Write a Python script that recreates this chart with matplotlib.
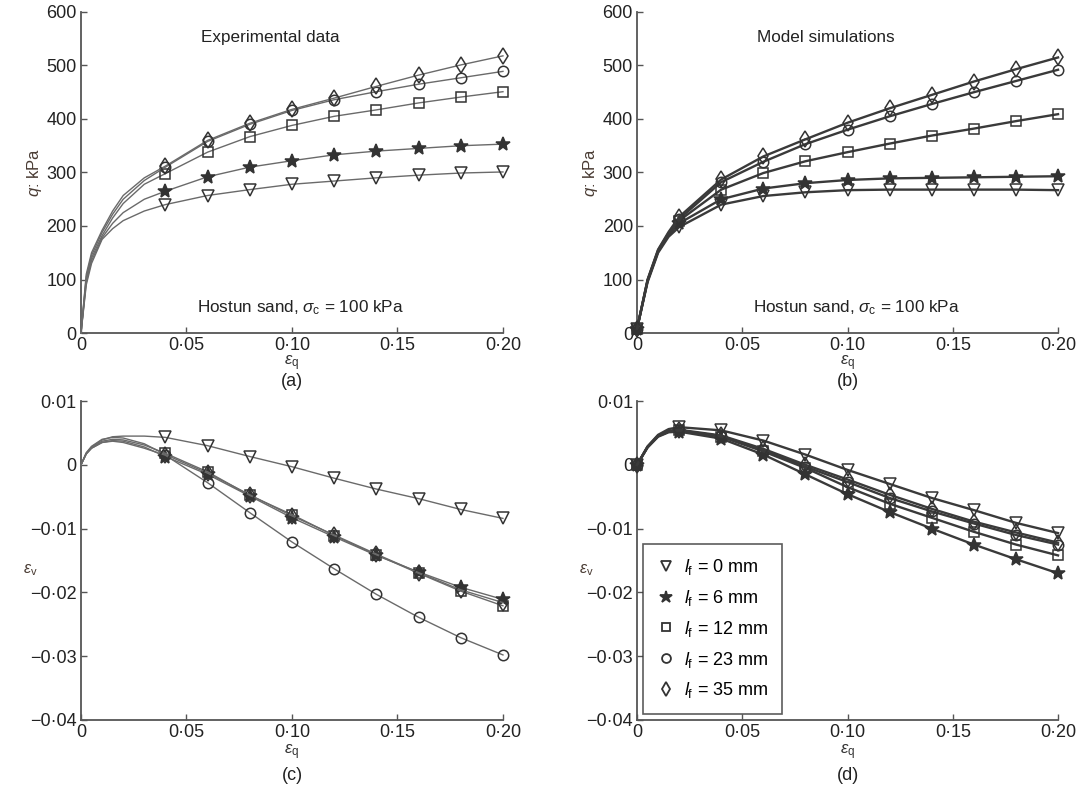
import matplotlib
matplotlib.use("Agg")
import matplotlib.pyplot as plt
from matplotlib.lines import Line2D

plt.rcParams["font.family"] = ["Liberation Sans", "DejaVu Sans"]
plt.rcParams["mathtext.fontset"] = "custom"
plt.rcParams["mathtext.rm"] = "Liberation Sans"
plt.rcParams["mathtext.it"] = "Liberation Sans:italic"
plt.rcParams["font.size"] = 12

# ---- data ----
labels = ["0 mm", "6 mm", "12 mm", "23 mm", "35 mm"]
markers = ["v", "*", "s", "o", "d"]

# experimental: markers from 0.04 on
eq_exp = [0, 0.0025, 0.005, 0.01, 0.015, 0.02, 0.03, 0.04, 0.06, 0.08,
          0.10, 0.12, 0.14, 0.16, 0.18, 0.20]
exp_mark = list(range(7, 16))

q_exp_0 = [0, 90, 130, 175, 195, 210, 228, 240, 257, 268, 278, 284, 290, 295, 299, 301]
q_exp_6 = [0, 95, 135, 178, 205, 225, 250, 265, 292, 310, 322, 333, 340, 345, 350, 353]
q_exp_12 = [0, 100, 140, 182, 215, 242, 278, 298, 338, 367, 388, 405, 417, 430, 441, 451]
q_exp_23 = [0, 105, 145, 188, 222, 250, 285, 310, 358, 390, 416, 436, 451, 465, 477, 489]
q_exp_35 = [0, 110, 150, 192, 228, 257, 290, 312, 360, 392, 418, 439, 461, 482, 501, 518]

ev_exp_0 = [0, 0.0018, 0.0028, 0.0039, 0.0044, 0.0045, 0.0045, 0.0043, 0.0030, 0.0013,
            -0.0003, -0.0021, -0.0038, -0.0053, -0.0070, -0.0084]
ev_exp_6 = [0, 0.0017, 0.0026, 0.0035, 0.0038, 0.0037, 0.0028, 0.0013, -0.0015, -0.0049,
            -0.0083, -0.0113, -0.0142, -0.0168, -0.0192, -0.0211]
ev_exp_12 = [0, 0.0018, 0.0027, 0.0037, 0.0040, 0.0039, 0.0031, 0.0018, -0.0011, -0.0048,
             -0.0078, -0.0111, -0.0141, -0.0170, -0.0198, -0.0221]
ev_exp_23 = [0, 0.0017, 0.0026, 0.0035, 0.0037, 0.0035, 0.0026, 0.0015, -0.0028, -0.0075,
             -0.0121, -0.0163, -0.0203, -0.0239, -0.0271, -0.0298]
ev_exp_35 = [0, 0.0019, 0.0029, 0.0040, 0.0043, 0.0042, 0.0033, 0.0016, -0.0013, -0.0047,
             -0.0080, -0.0110, -0.0140, -0.0169, -0.0196, -0.0216]

# model: markers at 0 and every 0.02
eq_mod = [0, 0.005, 0.01, 0.015, 0.02, 0.04, 0.06, 0.08, 0.10, 0.12, 0.14, 0.16, 0.18, 0.20]
mod_mark = [0] + list(range(4, 14))

q_mod_0 = [8, 95, 150, 180, 198, 240, 256, 263, 267, 268, 268, 268, 268, 267]
q_mod_6 = [8, 97, 152, 183, 205, 250, 270, 280, 286, 289, 290, 291, 292, 293]
q_mod_12 = [8, 98, 153, 185, 210, 268, 299, 321, 338, 354, 369, 382, 396, 409]
q_mod_23 = [8, 99, 155, 187, 213, 282, 320, 353, 380, 405, 428, 450, 471, 492]
q_mod_35 = [8, 100, 156, 189, 217, 287, 330, 362, 393, 420, 445, 470, 493, 515]

ev_mod_0 = [0, 0.0029, 0.0047, 0.0056, 0.0059, 0.0054, 0.0038, 0.0016, -0.0008, -0.0030,
            -0.0052, -0.0071, -0.0091, -0.0107]
ev_mod_6 = [0, 0.0027, 0.0044, 0.0051, 0.0052, 0.0041, 0.0016, -0.0015, -0.0046, -0.0074,
            -0.0100, -0.0125, -0.0148, -0.0170]
ev_mod_12 = [0, 0.0028, 0.0045, 0.0052, 0.0054, 0.0044, 0.0021, -0.0005, -0.0035, -0.0061,
             -0.0083, -0.0105, -0.0125, -0.0142]
ev_mod_23 = [0, 0.0028, 0.0045, 0.0052, 0.0054, 0.0045, 0.0023, -0.0003, -0.0027, -0.0052,
             -0.0073, -0.0092, -0.0110, -0.0125]
ev_mod_35 = [0, 0.0028, 0.0046, 0.0053, 0.0055, 0.0046, 0.0025, 0.0000, -0.0023, -0.0047,
             -0.0069, -0.0089, -0.0106, -0.0122]

xticks = [0, 0.05, 0.10, 0.15, 0.20]
xticklabels = ["0", "0·05", "0·10", "0·15", "0·20"]
qticks = [0, 100, 200, 300, 400, 500, 600]
evticks = [0.01, 0, -0.01, -0.02, -0.03, -0.04]
evticklabels = ["0·01", "0", "−0·01", "−0·02", "−0·03", "−0·04"]

ms = {"v": 8.5, "*": 10.5, "s": 7.5, "o": 7.5, "d": 8.5}
DARK = "#333333"


def style_axes(ax, letter, y_eq, y_letter):
    for s in ["top", "right"]:
        ax.spines[s].set_visible(False)
    for s in ["left", "bottom"]:
        ax.spines[s].set_color("#555555")
        ax.spines[s].set_linewidth(1.3)
    ax.tick_params(direction="in", length=4, width=1, color="#555555",
                   labelcolor="#222222", labelsize=13, pad=3)
    ax.set_xlim(0, 0.20)
    ax.set_xticks(xticks)
    ax.set_xticklabels(xticklabels)
    ax.text(0.5, y_eq, r"$\varepsilon_\mathrm{q}$", transform=ax.transAxes,
            ha="center", va="center", fontsize=12, color="#333333")
    ax.text(0.5, y_letter, letter, transform=ax.transAxes,
            ha="center", va="center", fontsize=13, color="#222222")


def draw(ax, x, series, mark_idx, lc, lw):
    for y, m in zip(series, markers):
        ax.plot(x, y, color=lc, lw=lw, marker=m, markevery=mark_idx,
                ms=ms[m], mfc=DARK if m == "*" else "none",
                mec=DARK, mew=1.1, clip_on=False, zorder=3)


fig = plt.figure(figsize=(10.77, 7.88), dpi=100)
ax_a = fig.add_axes([0.0752, 0.5774, 0.3918, 0.4074])
ax_b = fig.add_axes([0.5915, 0.5774, 0.3909, 0.4074])
ax_c = fig.add_axes([0.0752, 0.0863, 0.3918, 0.4048])
ax_d = fig.add_axes([0.5915, 0.0863, 0.3909, 0.4048])

exp_lc, exp_lw = "#6a6a6a", 1.0
mod_lc, mod_lw = "#3a3a3a", 1.7

draw(ax_a, eq_exp, [q_exp_0, q_exp_6, q_exp_12, q_exp_23, q_exp_35], exp_mark, exp_lc, exp_lw)
draw(ax_b, eq_mod, [q_mod_0, q_mod_6, q_mod_12, q_mod_23, q_mod_35], mod_mark, mod_lc, mod_lw)
draw(ax_c, eq_exp, [ev_exp_0, ev_exp_6, ev_exp_12, ev_exp_23, ev_exp_35], exp_mark, exp_lc, exp_lw)
draw(ax_d, eq_mod, [ev_mod_0, ev_mod_6, ev_mod_12, ev_mod_23, ev_mod_35], mod_mark, mod_lc, mod_lw)

for ax, letter in [(ax_a, "(a)"), (ax_b, "(b)")]:
    style_axes(ax, letter, -0.095, -0.152)
    ax.set_ylim(0, 600)
    ax.set_yticks(qticks)
    ax.text(-0.11, 0.5, "$q$: kPa", transform=ax.transAxes, rotation=90,
            ha="center", va="center", fontsize=12, color="#4a3c34")
    ax.text(0.055, 47, r"Hostun sand, $\sigma_\mathrm{c}$ = 100 kPa",
            ha="left", va="center", fontsize=12.3, color="#222222")

ax_a.text(0.0896, 553, "Experimental data", ha="center", va="center",
          fontsize=12.3, color="#222222")
ax_b.text(0.0898, 553, "Model simulations", ha="center", va="center",
          fontsize=12.3, color="#222222")

for ax, letter in [(ax_c, "(c)"), (ax_d, "(d)")]:
    style_axes(ax, letter, -0.10, -0.173)
    ax.set_ylim(-0.04, 0.01)
    ax.set_yticks(evticks)
    ax.set_yticklabels(evticklabels)
    ax.text(-0.12, 0.47, r"$\varepsilon_\mathrm{v}$", transform=ax.transAxes,
            ha="center", va="center", fontsize=11.5, color="#4a3c34")

handles = [Line2D([], [], ls="none", marker=m, ms=ms[m] * 0.85,
                  mfc=DARK if m == "*" else "none", mec=DARK, mew=1.3)
           for m in markers]
leg = ax_d.legend(handles, [r"$l_\mathrm{f}$ = " + s for s in labels],
                  loc="lower left", bbox_to_anchor=(0.014, 0.019), borderaxespad=0,
                  fancybox=False, edgecolor=DARK, fontsize=13,
                  handlelength=1.0, handletextpad=0.5, labelspacing=0.6,
                  borderpad=0.75)
leg.get_frame().set_linewidth(1.2)

fig.savefig("out.png", dpi=100)
